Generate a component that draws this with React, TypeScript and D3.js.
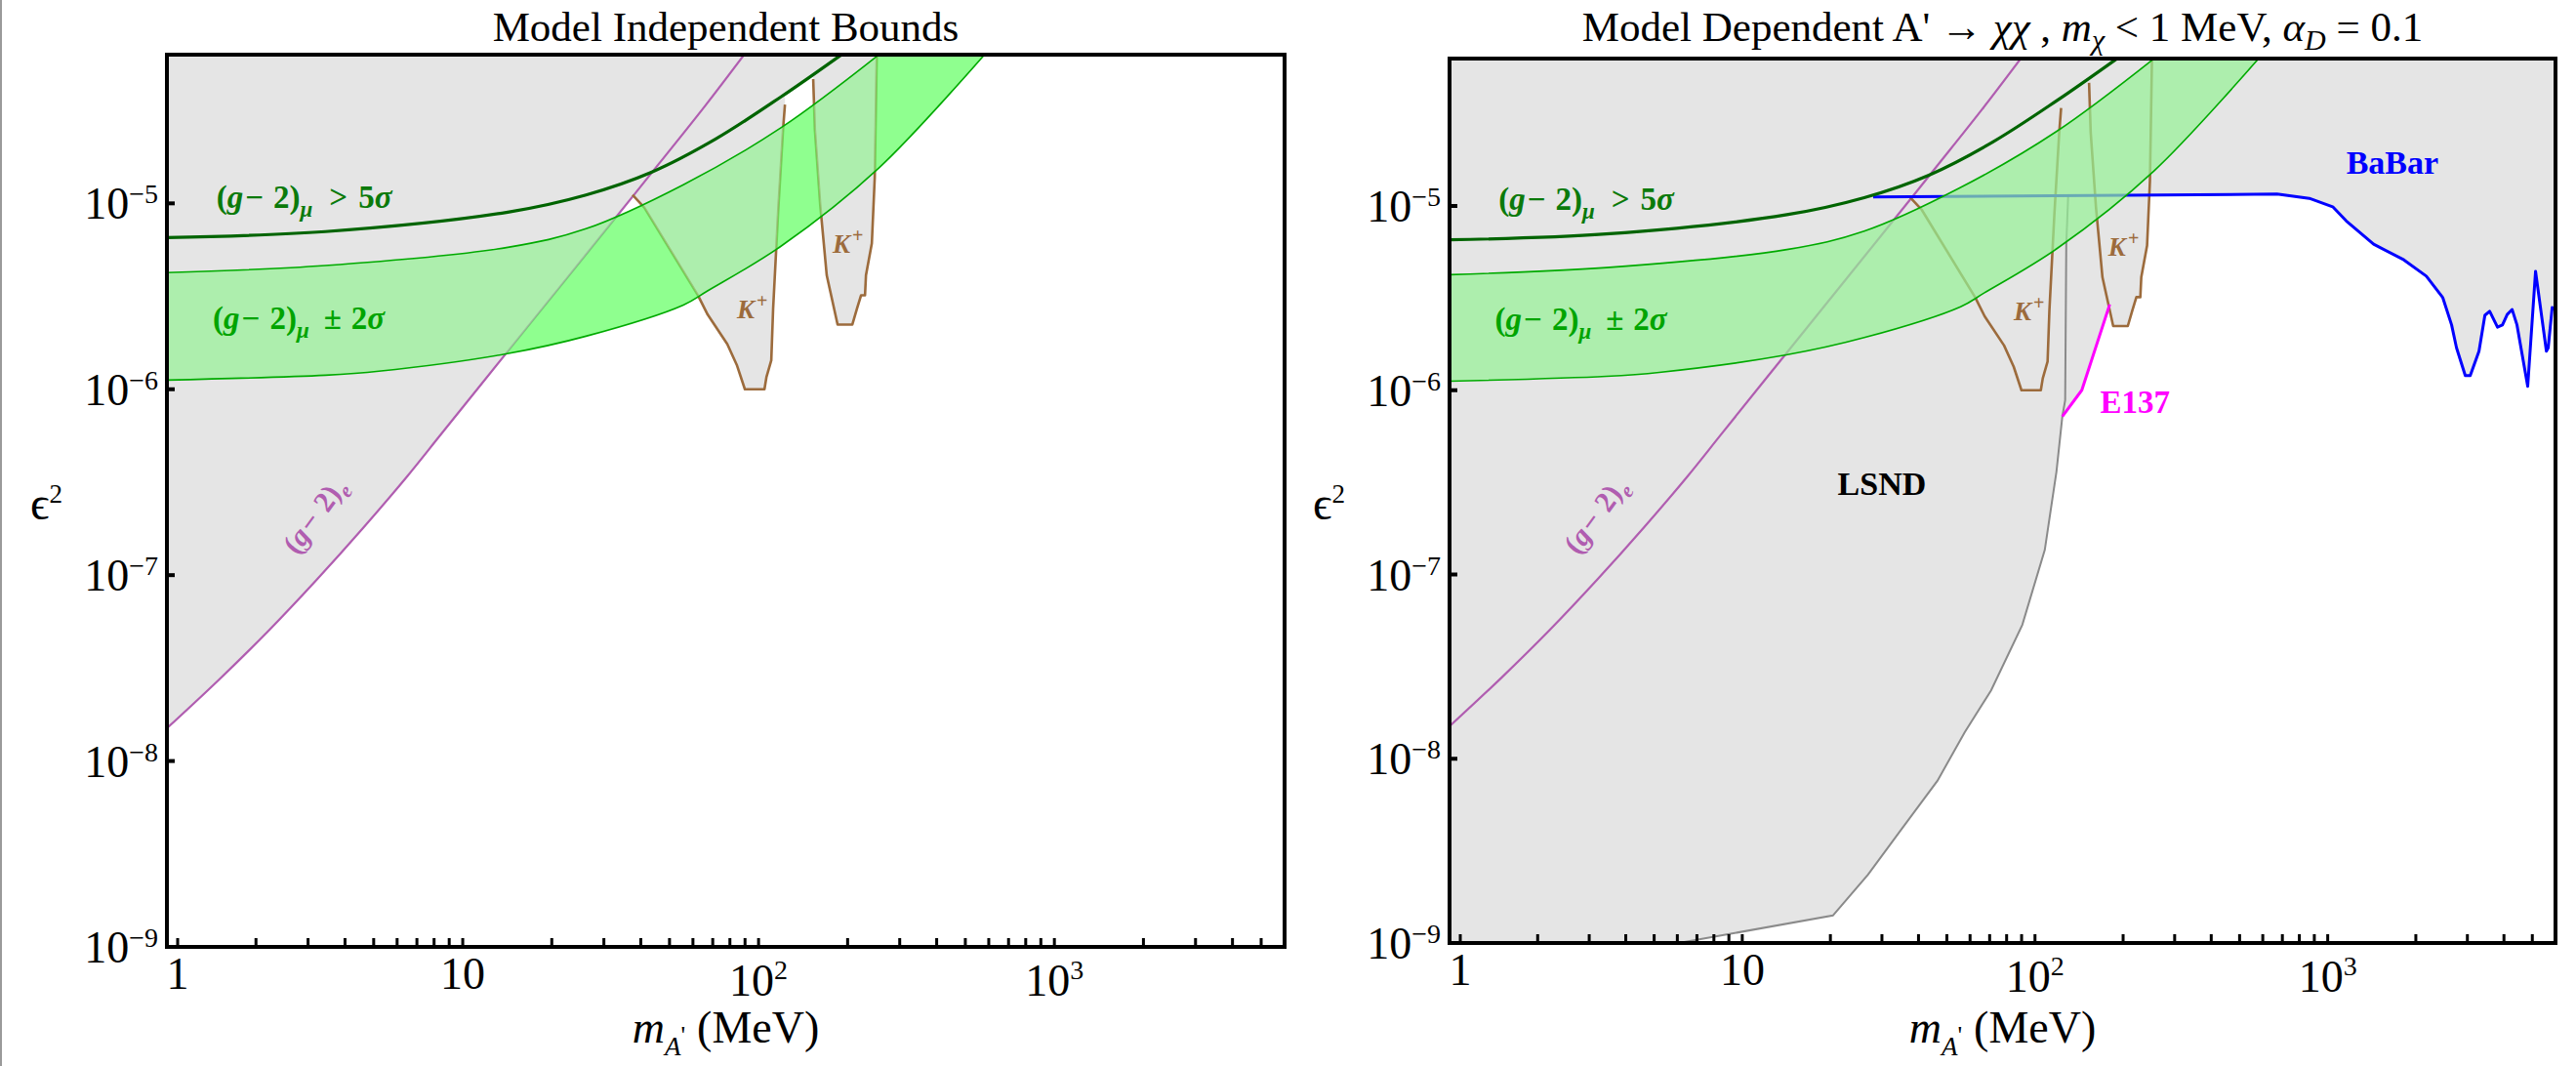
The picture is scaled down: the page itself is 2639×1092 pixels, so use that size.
import React, { useEffect, useRef } from 'react';
import * as d3 from 'd3';

type Pt = [number, number];

const W = 2639;
const H = 1092;
const FONT = "'Liberation Serif', 'Times New Roman', 'DejaVu Serif', serif";

// x = m_A' in MeV, y = epsilon^2
const xDomain: Pt = [1, 6000];
const yDomain: Pt = [1e-9, Math.pow(10, -4.2)];

const gm2eBound: Pt[] = [[1, 1.5e-8], [1.5, 2.74e-8], [2.2, 5e-8], [3.2, 9.4e-8], [4.6, 1.79e-7], [6.5, 3.41e-7], [8.5, 5.8e-7], [14.2, 1.6e-6], [22, 3.79e-6], [31.3, 7.6e-6], [46, 1.63e-5], [66, 3.35e-5], [90, 6.4e-5]];
const mu5Sigma: Pt[] = [[1, 6.55e-6], [3.43, 7.05e-6], [14.2, 8.97e-6], [26.1, 1.11e-5], [43.4, 1.47e-5], [71.6, 2.22e-5], [119, 3.74e-5], [193, 6.4e-5]];
const bandUpper: Pt[] = [[1, 4.24e-6], [3.43, 4.63e-6], [14.2, 5.8e-6], [26.1, 7.3e-6], [55.7, 1.26e-5], [119, 2.55e-5], [258, 6.4e-5]];
const bandLower: Pt[] = [[1, 1.12e-6], [3.43, 1.19e-6], [5.2, 1.25e-6], [14, 1.55e-6], [26.1, 1.93e-6], [55.7, 2.84e-6], [67, 3.37e-6], [119, 5.88e-6], [255, 1.55e-5], [585, 6.4e-5]];
const kaonLow: Pt[] = [[37.5, 1.11e-5], [41.1, 9.5e-6], [62.4, 3.2e-6], [67.3, 2.52e-6], [78.4, 1.75e-6], [84.6, 1.34e-6], [89.9, 1e-6], [104.7, 1e-6], [106.3, 1.16e-6], [110.4, 1.43e-6], [112, 2.71e-6], [116.5, 9.1e-6], [121, 2.5e-5], [122.8, 3.4e-5]];
const kaonHigh: Pt[] = [[153, 4.66e-5], [155, 2.5e-5], [161.5, 9.9e-6], [170, 4.1e-6], [185, 2.23e-6], [207.5, 2.23e-6], [215, 2.71e-6], [222, 3.2e-6], [229, 3.2e-6], [230.7, 4.1e-6], [241.5, 6.1e-6], [247, 1.37e-5], [251, 6.4e-5]];
const lsnd: Pt[] = [[6.07, 1e-9], [20.4, 1.41e-9], [26.9, 2.35e-9], [34.9, 4.12e-9], [46.4, 7.58e-9], [57.5, 1.39e-8], [70.8, 2.35e-8], [90.5, 5.33e-8], [108, 1.36e-7], [118.4, 3.62e-7], [124, 7.2e-7], [126.8, 8.83e-7], [127.9, 6.2e-6], [129.8, 1.13e-5]];
const e137: Pt[] = [[124, 7.2e-7], [144.5, 1e-6], [180, 2.92e-6]];
const babar: Pt[] = [[28, 1.12e-5], [671, 1.16e-5], [865, 1.1e-5], [1040, 9.9e-6], [1157, 8.3e-6], [1435, 6.2e-6], [1820, 5.1e-6], [2172, 4.16e-6], [2473, 3.18e-6], [2650, 2.26e-6], [2754, 1.7e-6], [2951, 1.2e-6], [3068, 1.2e-6], [3287, 1.63e-6], [3443, 2.55e-6], [3575, 2.68e-6], [3802, 2.2e-6], [3953, 2.26e-6], [4105, 2.58e-6], [4266, 2.74e-6], [4432, 2.26e-6], [4822, 1.05e-6], [5129, 4.42e-6], [5585, 1.63e-6], [5666, 1.7e-6], [5845, 2.81e-6], [6000, 2.74e-6]];

const xMajor = [1, 10, 100, 1000];
const xMajorExp = ['', '', '2', '3'];
const xMinor = [2, 3, 4, 5, 6, 7, 8, 9, 20, 30, 40, 50, 60, 70, 80, 90, 200, 300, 400, 500, 600, 700, 800, 900, 2000, 3000, 4000, 5000];
const yMajor = [1e-5, 1e-6, 1e-7, 1e-8, 1e-9];
const yMajorExp = ['−5', '−6', '−7', '−8', '−9'];

type Part = { t: string; it?: boolean; size?: number; dy?: number; dx?: number };

const gm2MuPrefix: Part[] = [{ t: '(' }, { t: 'g', it: true }, { t: '−', dx: 2 }, { t: '2)', dx: 10 }, { t: 'μ', it: true, size: 23, dy: 9 }];
const label5Sigma: Part[] = [...gm2MuPrefix, { t: '>', dy: -9, dx: 17 }, { t: '5', dx: 11 }, { t: 'σ', it: true }];
const label2Sigma: Part[] = [...gm2MuPrefix, { t: '±', dy: -9, dx: 15 }, { t: '2', dx: 10 }, { t: 'σ', it: true }];
const labelGm2e: Part[] = [{ t: '(' }, { t: 'g', it: true }, { t: '−', dx: 2 }, { t: '2)', dx: 9 }, { t: 'e', it: true, size: 21, dy: 8 }];
const labelKaon: Part[] = [{ t: 'K', it: true }, { t: '+', size: 20, dy: -11, dx: 2 }];

function rich(parent: any, x: number, y: number, parts: Part[], o: { size: number; fill?: string; bold?: boolean; anchor?: string; transform?: string }) {
  const t = parent.append('text')
    .attr('x', x).attr('y', y)
    .attr('font-size', o.size)
    .attr('fill', o.fill || '#000')
    .attr('font-weight', o.bold ? 'bold' : 'normal')
    .attr('text-anchor', o.anchor || 'start')
    .style('white-space', 'pre');
  if (o.transform) t.attr('transform', o.transform);
  parts.forEach((p) => {
    const s = t.append('tspan').text(p.t);
    if (p.it) s.attr('font-style', 'italic');
    if (p.size) s.attr('font-size', p.size);
    if (p.dy) s.attr('dy', p.dy);
    if (p.dx) s.attr('dx', p.dx);
  });
  return t;
}

interface Panel { key: string; x0: number; x1: number; y0: number; y1: number; dependent: boolean }

const panels: Panel[] = [
  { key: 'L', x0: 171, x1: 1316, y0: 56, y1: 970, dependent: false },
  { key: 'R', x0: 1485, x1: 2618, y0: 60, y1: 966, dependent: true },
];

function drawPanel(svg: any, p: Panel) {
  const x = d3.scaleLog().domain(xDomain).range([p.x0, p.x1]);
  const y = d3.scaleLog().domain(yDomain).range([p.y1, p.y0]);
  const X = (d: Pt) => x(d[0]);
  const Y = (d: Pt) => y(d[1]);
  const smooth = (a: Pt[]) => d3.line<Pt>().x(X).y(Y).curve(d3.curveCatmullRom.alpha(0.5))(a) as string;
  const poly = (a: Pt[]) => d3.line<Pt>().x(X).y(Y)(a) as string;
  const first = (a: Pt[]) => a[0];
  const last = (a: Pt[]) => a[a.length - 1];
  const top = p.y0 - 30, bot = p.y1 + 30, lft = p.x0 - 30, rgt = p.x1 + 30;
  const upTo = (a: Pt[]) => `L${X(last(a))},${top}L${X(first(a))},${top}Z`;

  const grayPaths: string[] = [
    smooth(mu5Sigma) + `L${X(last(mu5Sigma))},${top}L${lft},${top}L${lft},${Y(first(mu5Sigma))}Z`,
    smooth(gm2eBound) + `L${X(last(gm2eBound))},${top}L${lft},${top}L${lft},${Y(first(gm2eBound))}Z`,
    poly(kaonLow) + upTo(kaonLow),
    poly(kaonHigh) + upTo(kaonHigh),
  ];
  if (p.dependent) {
    grayPaths.push(poly(lsnd) + `L${X(last(lsnd))},${top}L${lft},${top}L${lft},${bot}L${X(first(lsnd))},${bot}Z`);
    grayPaths.push(poly(e137) + upTo(e137));
    grayPaths.push(poly(babar) + `L${rgt},${Y(last(babar))}L${rgt},${top}L${X(first(babar))},${top}Z`);
  }
  const band = smooth(bandUpper) + smooth(bandLower.slice().reverse()).replace(/^M/, 'L') + 'Z';

  const defs = svg.append('defs');
  defs.append('clipPath').attr('id', `plot-${p.key}`)
    .append('rect').attr('x', p.x0).attr('y', p.y0).attr('width', p.x1 - p.x0).attr('height', p.y1 - p.y0);
  const gclip = defs.append('clipPath').attr('id', `gray-${p.key}`);
  grayPaths.forEach((d) => gclip.append('path').attr('d', d));
  const mask = defs.append('mask').attr('id', `nogray-${p.key}`).attr('maskUnits', 'userSpaceOnUse')
    .attr('x', 0).attr('y', 0).attr('width', W).attr('height', H);
  mask.append('rect').attr('x', 0).attr('y', 0).attr('width', W).attr('height', H).attr('fill', '#fff');
  grayPaths.forEach((d) => mask.append('path').attr('d', d).attr('fill', '#000'));

  const g = svg.append('g').attr('clip-path', `url(#plot-${p.key})`);
  g.append('rect').attr('x', p.x0).attr('y', p.y0).attr('width', p.x1 - p.x0).attr('height', p.y1 - p.y0).attr('fill', '#fff');
  grayPaths.forEach((d) => g.append('path').attr('d', d).attr('fill', '#e5e5e5'));

  g.append('path').attr('d', smooth(gm2eBound)).attr('fill', 'none').attr('stroke', '#b05db0').attr('stroke-width', 2.2);
  [kaonLow, kaonHigh].forEach((k) =>
    g.append('path').attr('d', poly(k)).attr('fill', 'none').attr('stroke', '#9c6b3c').attr('stroke-width', 2.6).attr('stroke-linejoin', 'round'));
  if (p.dependent) {
    g.append('path').attr('d', poly(lsnd)).attr('fill', 'none').attr('stroke', '#8a8a8a').attr('stroke-width', 2);
    g.append('path').attr('d', poly(e137)).attr('fill', 'none').attr('stroke', '#ff00ff').attr('stroke-width', 3);
    g.append('path').attr('d', poly(babar)).attr('fill', 'none').attr('stroke', '#0000ff').attr('stroke-width', 3).attr('stroke-linejoin', 'round');
  }

  g.append('path').attr('d', band).attr('fill', 'rgb(96,255,96)').attr('fill-opacity', 0.7).attr('mask', `url(#nogray-${p.key})`);
  g.append('path').attr('d', band).attr('fill', 'rgb(150,242,150)').attr('fill-opacity', 0.7).attr('clip-path', `url(#gray-${p.key})`);
  [bandUpper, bandLower].forEach((b) =>
    g.append('path').attr('d', smooth(b)).attr('fill', 'none').attr('stroke', '#00aa00').attr('stroke-width', 1.6));
  g.append('path').attr('d', smooth(mu5Sigma)).attr('fill', 'none').attr('stroke', '#006400').attr('stroke-width', 3.2);

  // annotations
  rich(svg, x(1.47), y(9.5e-6), label5Sigma, { size: 33, bold: true, fill: '#0b7a0b' });
  rich(svg, x(1.43), y(2.12e-6), label2Sigma, { size: 33, bold: true, fill: '#00a400' });
  rich(svg, 0, 0, labelGm2e, { size: 30, bold: true, fill: '#b05db0', anchor: 'middle', transform: `translate(${x(3.35)},${y(1.95e-7)}) rotate(-54)` });
  rich(svg, x(84.6), y(2.4e-6), labelKaon, { size: 27, bold: true, fill: '#9c6b3c' });
  rich(svg, x(178), y(5.4e-6), labelKaon, { size: 27, bold: true, fill: '#9c6b3c' });
  if (p.dependent) {
    rich(svg, x(30), y(2.7e-7), [{ t: 'LSND' }], { size: 34, bold: true, anchor: 'middle' });
    rich(svg, x(167), y(7.5e-7), [{ t: 'E137' }], { size: 33, bold: true, fill: '#ff00ff' });
    rich(svg, x(1157), y(1.5e-5), [{ t: 'BaBar' }], { size: 34, bold: true, fill: '#0000ff' });
  }

  // frame and ticks
  svg.append('rect').attr('x', p.x0).attr('y', p.y0).attr('width', p.x1 - p.x0).attr('height', p.y1 - p.y0)
    .attr('fill', 'none').attr('stroke', '#000').attr('stroke-width', 4);
  const tickX = (v: number) => x(v) + (v === 1 ? 11 : 0);
  [...xMajor, ...xMinor].forEach((v) =>
    svg.append('line').attr('x1', tickX(v)).attr('x2', tickX(v)).attr('y1', p.y1).attr('y2', p.y1 - 9)
      .attr('stroke', '#000').attr('stroke-width', 3));
  xMajor.forEach((v, i) => {
    const parts: Part[] = [{ t: v === 1 ? '1' : '10' }];
    if (xMajorExp[i]) parts.push({ t: xMajorExp[i], size: 28, dy: -17 });
    rich(svg, tickX(v), xMajorExp[i] ? p.y1 + 50 : p.y1 + 43, parts, { size: 46, anchor: 'middle' });
  });
  yMajor.forEach((v, i) => {
    svg.append('line').attr('x1', p.x0).attr('x2', p.x0 + 8).attr('y1', y(v)).attr('y2', y(v))
      .attr('stroke', '#000').attr('stroke-width', 4);
    rich(svg, p.x0 - 9, y(v) + 16, [{ t: '10' }, { t: yMajorExp[i], size: 28, dy: -16 }], { size: 46, anchor: 'end' });
  });

  // axis titles
  rich(svg, p.x0 - 140, (p.y0 + p.y1) / 2 + 19, [{ t: 'ϵ', size: 48 }, { t: '2', size: 27, dy: -17 }], { size: 48 });
  rich(svg, (p.x0 + p.x1) / 2, 1068, [
    { t: 'm', it: true }, { t: 'A', it: true, size: 27, dy: 13 }, { t: "'", size: 26, dy: -12 }, { t: '(MeV)', dy: -1, dx: 12 },
  ], { size: 46, anchor: 'middle' });

  const title: Part[] = p.dependent
    ? [{ t: "Model Dependent A' → " }, { t: 'χχ', it: true }, { t: ' , ' }, { t: 'm', it: true }, { t: 'χ', it: true, size: 30, dy: 9 },
       { t: ' < 1 MeV, ', dy: -9 }, { t: 'α', it: true }, { t: 'D', it: true, size: 30, dy: 9 }, { t: ' = 0.1', dy: -9 }]
    : [{ t: 'Model Independent Bounds' }];
  rich(svg, (p.x0 + p.x1) / 2, 42, title, { size: 43, anchor: 'middle' });
}

export default function App() {
  const ref = useRef<SVGSVGElement>(null);
  useEffect(() => {
    const svg = d3.select(ref.current);
    svg.selectAll('*').remove();
    svg.attr('font-family', FONT);
    svg.append('rect').attr('width', W).attr('height', H).attr('fill', '#fff');
    svg.append('line').attr('x1', 1).attr('x2', 1).attr('y1', 0).attr('y2', H).attr('stroke', '#9a9a9a').attr('stroke-width', 2);
    panels.forEach((p) => drawPanel(svg, p));
  }, []);
  return <svg ref={ref} width={W} height={H} style={{ position: 'absolute', left: 0, top: 0 }} />;
}
